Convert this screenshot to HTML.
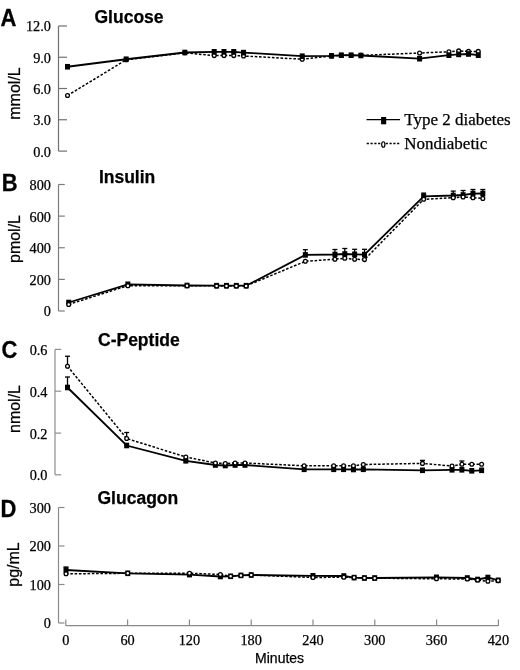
<!DOCTYPE html>
<html><head><meta charset="utf-8"><style>
html,body{margin:0;padding:0;background:#fff;width:520px;height:670px;overflow:hidden;}
svg{display:block;filter:grayscale(1) blur(0.3px);}
text{stroke:#000;stroke-width:0.25px;}
</style></head><body>
<svg width="520" height="670" viewBox="0 0 520 670">
<rect width="520" height="670" fill="#fff"/>
<line x1="58.5" y1="26" x2="58.5" y2="151.1" stroke="#707070" stroke-width="1.2"/>
<line x1="58.5" y1="26" x2="67.0" y2="26" stroke="#707070" stroke-width="1.2"/>
<text x="51" y="31.4" text-anchor="end" font-family="'Liberation Serif', serif" font-size="14.3">12.0</text>
<line x1="58.5" y1="57.25" x2="67.0" y2="57.25" stroke="#707070" stroke-width="1.2"/>
<text x="51" y="62.65" text-anchor="end" font-family="'Liberation Serif', serif" font-size="14.3">9.0</text>
<line x1="58.5" y1="88.5" x2="67.0" y2="88.5" stroke="#707070" stroke-width="1.2"/>
<text x="51" y="93.9" text-anchor="end" font-family="'Liberation Serif', serif" font-size="14.3">6.0</text>
<line x1="58.5" y1="119.75" x2="67.0" y2="119.75" stroke="#707070" stroke-width="1.2"/>
<text x="51" y="125.15" text-anchor="end" font-family="'Liberation Serif', serif" font-size="14.3">3.0</text>
<line x1="58.5" y1="151.1" x2="67.0" y2="151.1" stroke="#707070" stroke-width="1.2"/>
<text x="51" y="156.5" text-anchor="end" font-family="'Liberation Serif', serif" font-size="14.3">0.0</text>
<text transform="translate(19.7,93.5) rotate(-90)" text-anchor="middle" font-family="'Liberation Sans', sans-serif" font-size="16">mmol/L</text>
<text transform="translate(0.5,25.8) scale(1,1.11)" font-family="'Liberation Sans', sans-serif" font-weight="bold" font-size="22">A</text>
<text x="94.5" y="23.4" font-family="'Liberation Sans', sans-serif" font-weight="bold" font-size="17.5">Glucose</text>
<line x1="58.5" y1="184.5" x2="58.5" y2="311" stroke="#7c7c7c" stroke-width="1.2"/>
<line x1="58.5" y1="184.5" x2="64.8" y2="184.5" stroke="#7c7c7c" stroke-width="1.2"/>
<text x="51" y="189.9" text-anchor="end" font-family="'Liberation Serif', serif" font-size="14.3">800</text>
<line x1="58.5" y1="216.1" x2="64.8" y2="216.1" stroke="#7c7c7c" stroke-width="1.2"/>
<text x="51" y="221.5" text-anchor="end" font-family="'Liberation Serif', serif" font-size="14.3">600</text>
<line x1="58.5" y1="247.75" x2="64.8" y2="247.75" stroke="#7c7c7c" stroke-width="1.2"/>
<text x="51" y="253.15" text-anchor="end" font-family="'Liberation Serif', serif" font-size="14.3">400</text>
<line x1="58.5" y1="279.4" x2="64.8" y2="279.4" stroke="#7c7c7c" stroke-width="1.2"/>
<text x="51" y="284.79999999999995" text-anchor="end" font-family="'Liberation Serif', serif" font-size="14.3">200</text>
<line x1="58.5" y1="311" x2="64.8" y2="311" stroke="#7c7c7c" stroke-width="1.2"/>
<text x="51" y="316.4" text-anchor="end" font-family="'Liberation Serif', serif" font-size="14.3">0</text>
<text transform="translate(19.7,239) rotate(-90)" text-anchor="middle" font-family="'Liberation Sans', sans-serif" font-size="16">pmol/L</text>
<text transform="translate(1.7,191.2) scale(1,1.11)" font-family="'Liberation Sans', sans-serif" font-weight="bold" font-size="22">B</text>
<text x="98.9" y="183.4" font-family="'Liberation Sans', sans-serif" font-weight="bold" font-size="17.5">Insulin</text>
<line x1="55" y1="349.4" x2="55" y2="474.8" stroke="#8e8e8e" stroke-width="1.2"/>
<line x1="55" y1="349.4" x2="61.2" y2="349.4" stroke="#8e8e8e" stroke-width="1.2"/>
<text x="47.5" y="354.79999999999995" text-anchor="end" font-family="'Liberation Serif', serif" font-size="14.3">0.6</text>
<line x1="55" y1="391.2" x2="61.2" y2="391.2" stroke="#8e8e8e" stroke-width="1.2"/>
<text x="47.5" y="396.59999999999997" text-anchor="end" font-family="'Liberation Serif', serif" font-size="14.3">0.4</text>
<line x1="55" y1="433.1" x2="61.2" y2="433.1" stroke="#8e8e8e" stroke-width="1.2"/>
<text x="47.5" y="438.5" text-anchor="end" font-family="'Liberation Serif', serif" font-size="14.3">0.2</text>
<line x1="55" y1="474.8" x2="61.2" y2="474.8" stroke="#8e8e8e" stroke-width="1.2"/>
<text x="47.5" y="480.2" text-anchor="end" font-family="'Liberation Serif', serif" font-size="14.3">0.0</text>
<text transform="translate(19.7,409) rotate(-90)" text-anchor="middle" font-family="'Liberation Sans', sans-serif" font-size="16">nmol/L</text>
<text transform="translate(1.5,357.6) scale(1,1.11)" font-family="'Liberation Sans', sans-serif" font-weight="bold" font-size="22">C</text>
<text x="98" y="345.7" font-family="'Liberation Sans', sans-serif" font-weight="bold" font-size="17.5">C-Peptide</text>
<line x1="58.5" y1="507.5" x2="58.5" y2="623" stroke="#8a8a8a" stroke-width="1.2"/>
<line x1="58.5" y1="507.5" x2="64.5" y2="507.5" stroke="#8a8a8a" stroke-width="1.2"/>
<text x="51" y="512.9" text-anchor="end" font-family="'Liberation Serif', serif" font-size="14.3">300</text>
<line x1="58.5" y1="546" x2="64.5" y2="546" stroke="#8a8a8a" stroke-width="1.2"/>
<text x="51" y="551.4" text-anchor="end" font-family="'Liberation Serif', serif" font-size="14.3">200</text>
<line x1="58.5" y1="584.5" x2="64.5" y2="584.5" stroke="#8a8a8a" stroke-width="1.2"/>
<text x="51" y="589.9" text-anchor="end" font-family="'Liberation Serif', serif" font-size="14.3">100</text>
<line x1="58.5" y1="623" x2="64.5" y2="623" stroke="#8a8a8a" stroke-width="1.2"/>
<text x="51" y="628.4" text-anchor="end" font-family="'Liberation Serif', serif" font-size="14.3">0</text>
<text transform="translate(19.0,564.5) rotate(-90)" text-anchor="middle" font-family="'Liberation Sans', sans-serif" font-size="16">pg/mL</text>
<text transform="translate(0.4,516.9) scale(1,1.11)" font-family="'Liberation Sans', sans-serif" font-weight="bold" font-size="22">D</text>
<text x="97.5" y="504.1" font-family="'Liberation Sans', sans-serif" font-weight="bold" font-size="17.5">Glucagon</text>
<line x1="65.8" y1="625.7" x2="498.5" y2="625.7" stroke="#8a8a8a" stroke-width="1.2"/>
<line x1="65.80" y1="625.7" x2="65.80" y2="619.5" stroke="#8a8a8a" stroke-width="1.2"/>
<text x="65.80" y="645" text-anchor="middle" font-family="'Liberation Serif', serif" font-size="14.3">0</text>
<line x1="127.60" y1="625.7" x2="127.60" y2="619.5" stroke="#8a8a8a" stroke-width="1.2"/>
<text x="127.60" y="645" text-anchor="middle" font-family="'Liberation Serif', serif" font-size="14.3">60</text>
<line x1="189.40" y1="625.7" x2="189.40" y2="619.5" stroke="#8a8a8a" stroke-width="1.2"/>
<text x="189.40" y="645" text-anchor="middle" font-family="'Liberation Serif', serif" font-size="14.3">120</text>
<line x1="251.20" y1="625.7" x2="251.20" y2="619.5" stroke="#8a8a8a" stroke-width="1.2"/>
<text x="251.20" y="645" text-anchor="middle" font-family="'Liberation Serif', serif" font-size="14.3">180</text>
<line x1="313.00" y1="625.7" x2="313.00" y2="619.5" stroke="#8a8a8a" stroke-width="1.2"/>
<text x="313.00" y="645" text-anchor="middle" font-family="'Liberation Serif', serif" font-size="14.3">240</text>
<line x1="374.80" y1="625.7" x2="374.80" y2="619.5" stroke="#8a8a8a" stroke-width="1.2"/>
<text x="374.80" y="645" text-anchor="middle" font-family="'Liberation Serif', serif" font-size="14.3">300</text>
<line x1="436.60" y1="625.7" x2="436.60" y2="619.5" stroke="#8a8a8a" stroke-width="1.2"/>
<text x="436.60" y="645" text-anchor="middle" font-family="'Liberation Serif', serif" font-size="14.3">360</text>
<line x1="498.40" y1="625.7" x2="498.40" y2="619.5" stroke="#8a8a8a" stroke-width="1.2"/>
<text x="498.40" y="645" text-anchor="middle" font-family="'Liberation Serif', serif" font-size="14.3">420</text>
<text x="279.6" y="663" text-anchor="middle" font-family="'Liberation Sans', sans-serif" font-size="14">Minutes</text>
<path d="M67.50,95.50 L126.18,59.80 L184.86,52.80 L214.20,55.60 L223.98,55.60 L233.76,55.60 L243.54,56.00 L302.22,59.20 L331.56,56.00 L341.34,55.50 L351.12,55.50 L360.90,55.40 L419.58,53.00 L448.92,51.80 L458.70,50.90 L468.48,51.40 L478.26,51.40" fill="none" stroke="#000" stroke-width="1.5" stroke-dasharray="2.6,1.7"/>
<path d="M67.50,66.75 L126.18,59.25 L184.86,52.50 L214.20,51.80 L223.98,51.80 L233.76,51.80 L243.54,52.60 L302.22,56.20 L331.56,55.80 L341.34,55.20 L351.12,55.20 L360.90,55.50 L419.58,58.70 L448.92,55.20 L458.70,54.40 L468.48,54.00 L478.26,55.20" fill="none" stroke="#000" stroke-width="1.8"/>
<circle cx="67.50" cy="95.50" r="1.9" fill="#fff" stroke="#000" stroke-width="1.3"/>
<circle cx="126.18" cy="59.80" r="1.9" fill="#fff" stroke="#000" stroke-width="1.3"/>
<circle cx="184.86" cy="52.80" r="1.9" fill="#fff" stroke="#000" stroke-width="1.3"/>
<circle cx="214.20" cy="55.60" r="1.9" fill="#fff" stroke="#000" stroke-width="1.3"/>
<circle cx="223.98" cy="55.60" r="1.9" fill="#fff" stroke="#000" stroke-width="1.3"/>
<circle cx="233.76" cy="55.60" r="1.9" fill="#fff" stroke="#000" stroke-width="1.3"/>
<circle cx="243.54" cy="56.00" r="1.9" fill="#fff" stroke="#000" stroke-width="1.3"/>
<circle cx="302.22" cy="59.20" r="1.9" fill="#fff" stroke="#000" stroke-width="1.3"/>
<circle cx="331.56" cy="56.00" r="1.9" fill="#fff" stroke="#000" stroke-width="1.3"/>
<circle cx="341.34" cy="55.50" r="1.9" fill="#fff" stroke="#000" stroke-width="1.3"/>
<circle cx="351.12" cy="55.50" r="1.9" fill="#fff" stroke="#000" stroke-width="1.3"/>
<circle cx="360.90" cy="55.40" r="1.9" fill="#fff" stroke="#000" stroke-width="1.3"/>
<circle cx="419.58" cy="53.00" r="1.9" fill="#fff" stroke="#000" stroke-width="1.3"/>
<circle cx="448.92" cy="51.80" r="1.9" fill="#fff" stroke="#000" stroke-width="1.3"/>
<circle cx="458.70" cy="50.90" r="1.9" fill="#fff" stroke="#000" stroke-width="1.3"/>
<circle cx="468.48" cy="51.40" r="1.9" fill="#fff" stroke="#000" stroke-width="1.3"/>
<circle cx="478.26" cy="51.40" r="1.9" fill="#fff" stroke="#000" stroke-width="1.3"/>
<rect x="65.00" y="63.95" width="5" height="5.6" fill="#000"/>
<rect x="123.68" y="56.45" width="5" height="5.6" fill="#000"/>
<rect x="182.36" y="49.70" width="5" height="5.6" fill="#000"/>
<rect x="211.70" y="49.00" width="5" height="5.6" fill="#000"/>
<rect x="221.48" y="49.00" width="5" height="5.6" fill="#000"/>
<rect x="231.26" y="49.00" width="5" height="5.6" fill="#000"/>
<rect x="241.04" y="49.80" width="5" height="5.6" fill="#000"/>
<rect x="299.72" y="53.40" width="5" height="5.6" fill="#000"/>
<rect x="329.06" y="53.00" width="5" height="5.6" fill="#000"/>
<rect x="338.84" y="52.40" width="5" height="5.6" fill="#000"/>
<rect x="348.62" y="52.40" width="5" height="5.6" fill="#000"/>
<rect x="358.40" y="52.70" width="5" height="5.6" fill="#000"/>
<rect x="417.08" y="55.90" width="5" height="5.6" fill="#000"/>
<rect x="446.42" y="52.40" width="5" height="5.6" fill="#000"/>
<rect x="456.20" y="51.60" width="5" height="5.6" fill="#000"/>
<rect x="465.98" y="51.20" width="5" height="5.6" fill="#000"/>
<rect x="475.76" y="52.40" width="5" height="5.6" fill="#000"/>
<line x1="305.34" y1="254.90" x2="305.34" y2="249.70" stroke="#000" stroke-width="1.3"/>
<line x1="302.84" y1="249.70" x2="307.84" y2="249.70" stroke="#000" stroke-width="1.3"/>
<line x1="334.92" y1="254.50" x2="334.92" y2="249.50" stroke="#000" stroke-width="1.3"/>
<line x1="332.42" y1="249.50" x2="337.42" y2="249.50" stroke="#000" stroke-width="1.3"/>
<line x1="344.78" y1="254.00" x2="344.78" y2="248.50" stroke="#000" stroke-width="1.3"/>
<line x1="342.28" y1="248.50" x2="347.28" y2="248.50" stroke="#000" stroke-width="1.3"/>
<line x1="354.64" y1="254.30" x2="354.64" y2="249.30" stroke="#000" stroke-width="1.3"/>
<line x1="352.14" y1="249.30" x2="357.14" y2="249.30" stroke="#000" stroke-width="1.3"/>
<line x1="364.50" y1="254.60" x2="364.50" y2="249.30" stroke="#000" stroke-width="1.3"/>
<line x1="362.00" y1="249.30" x2="367.00" y2="249.30" stroke="#000" stroke-width="1.3"/>
<line x1="423.66" y1="196.30" x2="423.66" y2="193.10" stroke="#000" stroke-width="1.3"/>
<line x1="421.16" y1="193.10" x2="426.16" y2="193.10" stroke="#000" stroke-width="1.3"/>
<line x1="453.24" y1="195.50" x2="453.24" y2="191.10" stroke="#000" stroke-width="1.3"/>
<line x1="450.74" y1="191.10" x2="455.74" y2="191.10" stroke="#000" stroke-width="1.3"/>
<line x1="463.10" y1="195.00" x2="463.10" y2="190.50" stroke="#000" stroke-width="1.3"/>
<line x1="460.60" y1="190.50" x2="465.60" y2="190.50" stroke="#000" stroke-width="1.3"/>
<line x1="472.96" y1="193.60" x2="472.96" y2="189.50" stroke="#000" stroke-width="1.3"/>
<line x1="470.46" y1="189.50" x2="475.46" y2="189.50" stroke="#000" stroke-width="1.3"/>
<line x1="482.82" y1="193.50" x2="482.82" y2="189.50" stroke="#000" stroke-width="1.3"/>
<line x1="480.32" y1="189.50" x2="485.32" y2="189.50" stroke="#000" stroke-width="1.3"/>
<path d="M68.70,304.40 L127.86,285.70 L187.02,285.70 L216.60,285.90 L226.46,285.90 L236.32,285.90 L246.18,285.90 L305.34,261.30 L334.92,259.20 L344.78,258.30 L354.64,259.20 L364.50,259.60 L423.66,199.30 L453.24,197.70 L463.10,197.00 L472.96,197.70 L482.82,198.40" fill="none" stroke="#000" stroke-width="1.5" stroke-dasharray="2.6,1.7"/>
<path d="M68.70,302.50 L127.86,284.30 L187.02,285.50 L216.60,285.70 L226.46,285.70 L236.32,285.70 L246.18,285.70 L305.34,254.90 L334.92,254.50 L344.78,254.00 L354.64,254.30 L364.50,254.60 L423.66,196.30 L453.24,195.50 L463.10,195.00 L472.96,193.60 L482.82,193.50" fill="none" stroke="#000" stroke-width="1.8"/>
<rect x="66.20" y="299.70" width="5" height="5.6" fill="#000"/>
<rect x="125.36" y="281.50" width="5" height="5.6" fill="#000"/>
<rect x="184.52" y="282.70" width="5" height="5.6" fill="#000"/>
<rect x="214.10" y="282.90" width="5" height="5.6" fill="#000"/>
<rect x="223.96" y="282.90" width="5" height="5.6" fill="#000"/>
<rect x="233.82" y="282.90" width="5" height="5.6" fill="#000"/>
<rect x="243.68" y="282.90" width="5" height="5.6" fill="#000"/>
<rect x="302.84" y="252.10" width="5" height="5.6" fill="#000"/>
<rect x="332.42" y="251.70" width="5" height="5.6" fill="#000"/>
<rect x="342.28" y="251.20" width="5" height="5.6" fill="#000"/>
<rect x="352.14" y="251.50" width="5" height="5.6" fill="#000"/>
<rect x="362.00" y="251.80" width="5" height="5.6" fill="#000"/>
<rect x="421.16" y="193.50" width="5" height="5.6" fill="#000"/>
<rect x="450.74" y="192.70" width="5" height="5.6" fill="#000"/>
<rect x="460.60" y="192.20" width="5" height="5.6" fill="#000"/>
<rect x="470.46" y="190.80" width="5" height="5.6" fill="#000"/>
<rect x="480.32" y="190.70" width="5" height="5.6" fill="#000"/>
<circle cx="68.70" cy="304.40" r="1.9" fill="#fff" stroke="#000" stroke-width="1.3"/>
<circle cx="127.86" cy="285.70" r="1.9" fill="#fff" stroke="#000" stroke-width="1.3"/>
<circle cx="187.02" cy="285.70" r="1.9" fill="#fff" stroke="#000" stroke-width="1.3"/>
<circle cx="216.60" cy="285.90" r="1.9" fill="#fff" stroke="#000" stroke-width="1.3"/>
<circle cx="226.46" cy="285.90" r="1.9" fill="#fff" stroke="#000" stroke-width="1.3"/>
<circle cx="236.32" cy="285.90" r="1.9" fill="#fff" stroke="#000" stroke-width="1.3"/>
<circle cx="246.18" cy="285.90" r="1.9" fill="#fff" stroke="#000" stroke-width="1.3"/>
<circle cx="305.34" cy="261.30" r="1.9" fill="#fff" stroke="#000" stroke-width="1.3"/>
<circle cx="334.92" cy="259.20" r="1.9" fill="#fff" stroke="#000" stroke-width="1.3"/>
<circle cx="344.78" cy="258.30" r="1.9" fill="#fff" stroke="#000" stroke-width="1.3"/>
<circle cx="354.64" cy="259.20" r="1.9" fill="#fff" stroke="#000" stroke-width="1.3"/>
<circle cx="364.50" cy="259.60" r="1.9" fill="#fff" stroke="#000" stroke-width="1.3"/>
<circle cx="423.66" cy="199.30" r="1.9" fill="#fff" stroke="#000" stroke-width="1.3"/>
<circle cx="453.24" cy="197.70" r="1.9" fill="#fff" stroke="#000" stroke-width="1.3"/>
<circle cx="463.10" cy="197.00" r="1.9" fill="#fff" stroke="#000" stroke-width="1.3"/>
<circle cx="472.96" cy="197.70" r="1.9" fill="#fff" stroke="#000" stroke-width="1.3"/>
<circle cx="482.82" cy="198.40" r="1.9" fill="#fff" stroke="#000" stroke-width="1.3"/>
<line x1="67.50" y1="387.50" x2="67.50" y2="377.00" stroke="#000" stroke-width="1.3"/>
<line x1="65.00" y1="377.00" x2="70.00" y2="377.00" stroke="#000" stroke-width="1.3"/>
<line x1="67.50" y1="366.25" x2="67.50" y2="356.25" stroke="#000" stroke-width="1.3"/>
<line x1="65.00" y1="356.25" x2="70.00" y2="356.25" stroke="#000" stroke-width="1.3"/>
<line x1="126.66" y1="438.50" x2="126.66" y2="432.50" stroke="#000" stroke-width="1.3"/>
<line x1="124.16" y1="432.50" x2="129.16" y2="432.50" stroke="#000" stroke-width="1.3"/>
<line x1="422.46" y1="463.40" x2="422.46" y2="460.40" stroke="#000" stroke-width="1.3"/>
<line x1="419.96" y1="460.40" x2="424.96" y2="460.40" stroke="#000" stroke-width="1.3"/>
<line x1="461.90" y1="464.20" x2="461.90" y2="461.00" stroke="#000" stroke-width="1.3"/>
<line x1="459.40" y1="461.00" x2="464.40" y2="461.00" stroke="#000" stroke-width="1.3"/>
<path d="M67.50,366.25 L126.66,438.50 L185.82,457.00 L215.40,463.00 L225.26,463.50 L235.12,463.00 L244.98,463.00 L304.14,465.80 L333.72,465.80 L343.58,465.80 L353.44,465.80 L363.30,464.50 L422.46,463.40 L452.04,466.00 L461.90,464.20 L471.76,464.20 L481.62,464.20" fill="none" stroke="#000" stroke-width="1.5" stroke-dasharray="2.6,1.7"/>
<path d="M67.50,387.50 L126.66,445.50 L185.82,460.80 L215.40,465.00 L225.26,465.50 L235.12,465.00 L244.98,465.00 L304.14,469.30 L333.72,469.30 L343.58,469.30 L353.44,469.50 L363.30,469.30 L422.46,470.30 L452.04,469.80 L461.90,469.80 L471.76,470.80 L481.62,470.30" fill="none" stroke="#000" stroke-width="1.8"/>
<rect x="65.00" y="384.70" width="5" height="5.6" fill="#000"/>
<rect x="124.16" y="442.70" width="5" height="5.6" fill="#000"/>
<rect x="183.32" y="458.00" width="5" height="5.6" fill="#000"/>
<rect x="212.90" y="462.20" width="5" height="5.6" fill="#000"/>
<rect x="222.76" y="462.70" width="5" height="5.6" fill="#000"/>
<rect x="232.62" y="462.20" width="5" height="5.6" fill="#000"/>
<rect x="242.48" y="462.20" width="5" height="5.6" fill="#000"/>
<rect x="301.64" y="466.50" width="5" height="5.6" fill="#000"/>
<rect x="331.22" y="466.50" width="5" height="5.6" fill="#000"/>
<rect x="341.08" y="466.50" width="5" height="5.6" fill="#000"/>
<rect x="350.94" y="466.70" width="5" height="5.6" fill="#000"/>
<rect x="360.80" y="466.50" width="5" height="5.6" fill="#000"/>
<rect x="419.96" y="467.50" width="5" height="5.6" fill="#000"/>
<rect x="449.54" y="467.00" width="5" height="5.6" fill="#000"/>
<rect x="459.40" y="467.00" width="5" height="5.6" fill="#000"/>
<rect x="469.26" y="468.00" width="5" height="5.6" fill="#000"/>
<rect x="479.12" y="467.50" width="5" height="5.6" fill="#000"/>
<circle cx="67.50" cy="366.25" r="1.9" fill="#fff" stroke="#000" stroke-width="1.3"/>
<circle cx="126.66" cy="438.50" r="1.9" fill="#fff" stroke="#000" stroke-width="1.3"/>
<circle cx="185.82" cy="457.00" r="1.9" fill="#fff" stroke="#000" stroke-width="1.3"/>
<circle cx="215.40" cy="463.00" r="1.9" fill="#fff" stroke="#000" stroke-width="1.3"/>
<circle cx="225.26" cy="463.50" r="1.9" fill="#fff" stroke="#000" stroke-width="1.3"/>
<circle cx="235.12" cy="463.00" r="1.9" fill="#fff" stroke="#000" stroke-width="1.3"/>
<circle cx="244.98" cy="463.00" r="1.9" fill="#fff" stroke="#000" stroke-width="1.3"/>
<circle cx="304.14" cy="465.80" r="1.9" fill="#fff" stroke="#000" stroke-width="1.3"/>
<circle cx="333.72" cy="465.80" r="1.9" fill="#fff" stroke="#000" stroke-width="1.3"/>
<circle cx="343.58" cy="465.80" r="1.9" fill="#fff" stroke="#000" stroke-width="1.3"/>
<circle cx="353.44" cy="465.80" r="1.9" fill="#fff" stroke="#000" stroke-width="1.3"/>
<circle cx="363.30" cy="464.50" r="1.9" fill="#fff" stroke="#000" stroke-width="1.3"/>
<circle cx="422.46" cy="463.40" r="1.9" fill="#fff" stroke="#000" stroke-width="1.3"/>
<circle cx="452.04" cy="466.00" r="1.9" fill="#fff" stroke="#000" stroke-width="1.3"/>
<circle cx="461.90" cy="464.20" r="1.9" fill="#fff" stroke="#000" stroke-width="1.3"/>
<circle cx="471.76" cy="464.20" r="1.9" fill="#fff" stroke="#000" stroke-width="1.3"/>
<circle cx="481.62" cy="464.20" r="1.9" fill="#fff" stroke="#000" stroke-width="1.3"/>
<line x1="66.00" y1="570.00" x2="66.00" y2="567.00" stroke="#000" stroke-width="1.3"/>
<line x1="63.50" y1="567.00" x2="68.50" y2="567.00" stroke="#000" stroke-width="1.3"/>
<path d="M66.00,573.80 L127.74,573.30 L189.48,573.20 L220.35,574.50 L230.64,576.30 L240.93,575.40 L251.22,575.00 L312.96,577.50 L343.83,577.20 L354.12,577.60 L364.41,578.00 L374.70,578.20 L436.44,578.80 L467.31,579.00 L477.60,580.00 L487.89,581.30 L498.18,580.60" fill="none" stroke="#000" stroke-width="1.5" stroke-dasharray="2.6,1.7"/>
<path d="M66.00,570.00 L127.74,573.30 L189.48,574.60 L220.35,576.50 L230.64,576.30 L240.93,575.40 L251.22,575.00 L312.96,575.80 L343.83,576.00 L354.12,577.60 L364.41,578.00 L374.70,578.00 L436.44,577.30 L467.31,578.00 L477.60,579.50 L487.89,577.50 L498.18,580.30" fill="none" stroke="#000" stroke-width="1.8"/>
<rect x="63.50" y="567.20" width="5" height="5.6" fill="#000"/>
<rect x="125.24" y="570.50" width="5" height="5.6" fill="#000"/>
<rect x="186.98" y="571.80" width="5" height="5.6" fill="#000"/>
<rect x="217.85" y="573.70" width="5" height="5.6" fill="#000"/>
<rect x="228.14" y="573.50" width="5" height="5.6" fill="#000"/>
<rect x="238.43" y="572.60" width="5" height="5.6" fill="#000"/>
<rect x="248.72" y="572.20" width="5" height="5.6" fill="#000"/>
<rect x="310.46" y="573.00" width="5" height="5.6" fill="#000"/>
<rect x="341.33" y="573.20" width="5" height="5.6" fill="#000"/>
<rect x="351.62" y="574.80" width="5" height="5.6" fill="#000"/>
<rect x="361.91" y="575.20" width="5" height="5.6" fill="#000"/>
<rect x="372.20" y="575.20" width="5" height="5.6" fill="#000"/>
<rect x="433.94" y="574.50" width="5" height="5.6" fill="#000"/>
<rect x="464.81" y="575.20" width="5" height="5.6" fill="#000"/>
<rect x="475.10" y="576.70" width="5" height="5.6" fill="#000"/>
<rect x="485.39" y="574.70" width="5" height="5.6" fill="#000"/>
<rect x="495.68" y="577.50" width="5" height="5.6" fill="#000"/>
<circle cx="66.00" cy="573.80" r="1.9" fill="#fff" stroke="#000" stroke-width="1.3"/>
<circle cx="127.74" cy="573.30" r="1.9" fill="#fff" stroke="#000" stroke-width="1.3"/>
<circle cx="189.48" cy="573.20" r="1.9" fill="#fff" stroke="#000" stroke-width="1.3"/>
<circle cx="220.35" cy="574.50" r="1.9" fill="#fff" stroke="#000" stroke-width="1.3"/>
<circle cx="230.64" cy="576.30" r="1.9" fill="#fff" stroke="#000" stroke-width="1.3"/>
<circle cx="240.93" cy="575.40" r="1.9" fill="#fff" stroke="#000" stroke-width="1.3"/>
<circle cx="251.22" cy="575.00" r="1.9" fill="#fff" stroke="#000" stroke-width="1.3"/>
<circle cx="312.96" cy="577.50" r="1.9" fill="#fff" stroke="#000" stroke-width="1.3"/>
<circle cx="343.83" cy="577.20" r="1.9" fill="#fff" stroke="#000" stroke-width="1.3"/>
<circle cx="354.12" cy="577.60" r="1.9" fill="#fff" stroke="#000" stroke-width="1.3"/>
<circle cx="364.41" cy="578.00" r="1.9" fill="#fff" stroke="#000" stroke-width="1.3"/>
<circle cx="374.70" cy="578.20" r="1.9" fill="#fff" stroke="#000" stroke-width="1.3"/>
<circle cx="436.44" cy="578.80" r="1.9" fill="#fff" stroke="#000" stroke-width="1.3"/>
<circle cx="467.31" cy="579.00" r="1.9" fill="#fff" stroke="#000" stroke-width="1.3"/>
<circle cx="477.60" cy="580.00" r="1.9" fill="#fff" stroke="#000" stroke-width="1.3"/>
<circle cx="487.89" cy="581.30" r="1.9" fill="#fff" stroke="#000" stroke-width="1.3"/>
<circle cx="498.18" cy="580.60" r="1.9" fill="#fff" stroke="#000" stroke-width="1.3"/>
<line x1="366.5" y1="119.6" x2="400" y2="119.6" stroke="#000" stroke-width="1.4"/>
<rect x="381.1" y="117" width="5.1" height="7.3" fill="#000"/>
<text x="404.3" y="125.1" font-family="'Liberation Serif', serif" font-size="17">Type 2 diabetes</text>
<line x1="366.7" y1="143.5" x2="400" y2="143.5" stroke="#000" stroke-width="1.3" stroke-dasharray="2.2,1.6"/>
<ellipse cx="383.3" cy="144.5" rx="1.6" ry="2.75" fill="#fff" stroke="#000" stroke-width="1.2"/>
<text x="404.3" y="148.8" font-family="'Liberation Serif', serif" font-size="17">Nondiabetic</text>
</svg>
</body></html>
